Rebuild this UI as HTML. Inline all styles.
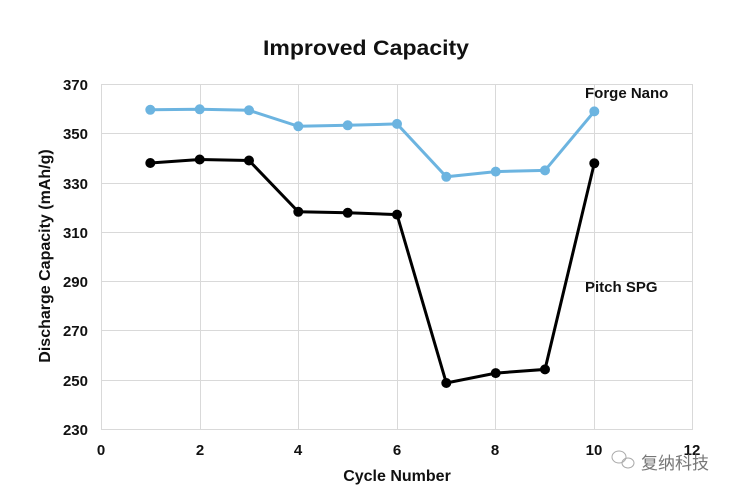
<!DOCTYPE html>
<html><head><style>body{margin:0;background:#fff}svg{display:block}text{font-family:"Liberation Sans",Arial,sans-serif}</style></head><body>
<svg width="735" height="495" viewBox="0 0 735 495">
<rect width="735" height="495" fill="#fff"/>
<text x="366" y="55" text-anchor="middle" font-size="21" font-weight="bold" fill="#111" textLength="206" lengthAdjust="spacingAndGlyphs">Improved Capacity</text>
<g stroke="#d9d9d9" stroke-width="1">
<line x1="101" y1="84.5" x2="693" y2="84.5"/><line x1="101" y1="133.5" x2="693" y2="133.5"/><line x1="101" y1="183.5" x2="693" y2="183.5"/><line x1="101" y1="232.5" x2="693" y2="232.5"/><line x1="101" y1="281.5" x2="693" y2="281.5"/><line x1="101" y1="330.5" x2="693" y2="330.5"/><line x1="101" y1="380.5" x2="693" y2="380.5"/><line x1="101" y1="429.5" x2="693" y2="429.5"/>
<line x1="101.5" y1="84" x2="101.5" y2="429"/><line x1="200.5" y1="84" x2="200.5" y2="429"/><line x1="298.5" y1="84" x2="298.5" y2="429"/><line x1="397.5" y1="84" x2="397.5" y2="429"/><line x1="495.5" y1="84" x2="495.5" y2="429"/><line x1="594.5" y1="84" x2="594.5" y2="429"/><line x1="692.5" y1="84" x2="692.5" y2="429"/>
</g>
<g font-size="15" font-weight="bold" fill="#111" text-anchor="end">
<text x="88" y="90">370</text><text x="88" y="139">350</text><text x="88" y="189">330</text><text x="88" y="238">310</text><text x="88" y="287">290</text><text x="88" y="336">270</text><text x="88" y="386">250</text><text x="88" y="435">230</text>
</g>
<g font-size="15" font-weight="bold" fill="#111" text-anchor="middle">
<text x="101" y="455">0</text><text x="200" y="455">2</text><text x="298" y="455">4</text><text x="397" y="455">6</text><text x="495" y="455">8</text><text x="594" y="455">10</text><text x="692" y="455">12</text>
</g>
<text x="397" y="481" text-anchor="middle" font-size="16" font-weight="bold" fill="#111">Cycle Number</text>
<text transform="translate(50,256) rotate(-90)" text-anchor="middle" font-size="16" font-weight="bold" fill="#111">Discharge Capacity (mAh/g)</text>
<polyline fill="none" stroke="#6cb4e0" stroke-width="3" points="150.3,109.8 199.7,109.3 249,110.3 298.3,126.3 347.7,125.3 397,123.9 446.3,176.8 495.7,171.6 545,170.4 594.3,111.4"/>
<g fill="#6cb4e0"><circle cx="150.3" cy="109.8" r="5"/><circle cx="199.7" cy="109.3" r="5"/><circle cx="249" cy="110.3" r="5"/><circle cx="298.3" cy="126.3" r="5"/><circle cx="347.7" cy="125.3" r="5"/><circle cx="397" cy="123.9" r="5"/><circle cx="446.3" cy="176.8" r="5"/><circle cx="495.7" cy="171.6" r="5"/><circle cx="545" cy="170.4" r="5"/><circle cx="594.3" cy="111.4" r="5"/></g>
<polyline fill="none" stroke="#000" stroke-width="3" points="150.3,163 199.7,159.5 249,160.5 298.3,211.8 347.7,212.8 397,214.6 446.3,383 495.7,373.1 545,369.4 594.3,163.3"/>
<g fill="#000"><circle cx="150.3" cy="163" r="5"/><circle cx="199.7" cy="159.5" r="5"/><circle cx="249" cy="160.5" r="5"/><circle cx="298.3" cy="211.8" r="5"/><circle cx="347.7" cy="212.8" r="5"/><circle cx="397" cy="214.6" r="5"/><circle cx="446.3" cy="383" r="5"/><circle cx="495.7" cy="373.1" r="5"/><circle cx="545" cy="369.4" r="5"/><circle cx="594.3" cy="163.3" r="5"/></g>
<text x="585" y="98" font-size="15" font-weight="bold" fill="#111">Forge Nano</text>
<text x="585" y="292" font-size="15" font-weight="bold" fill="#111">Pitch SPG</text>
<g fill="none" stroke="#aaa" stroke-width="1"><ellipse cx="619" cy="457" rx="7" ry="6"/><ellipse cx="628" cy="463" rx="6" ry="5"/></g>
<text x="641" y="469" font-size="17" fill="#777" font-family="'Liberation Sans','Noto Sans CJK SC',sans-serif">复纳科技</text>
</svg>
</body></html>
